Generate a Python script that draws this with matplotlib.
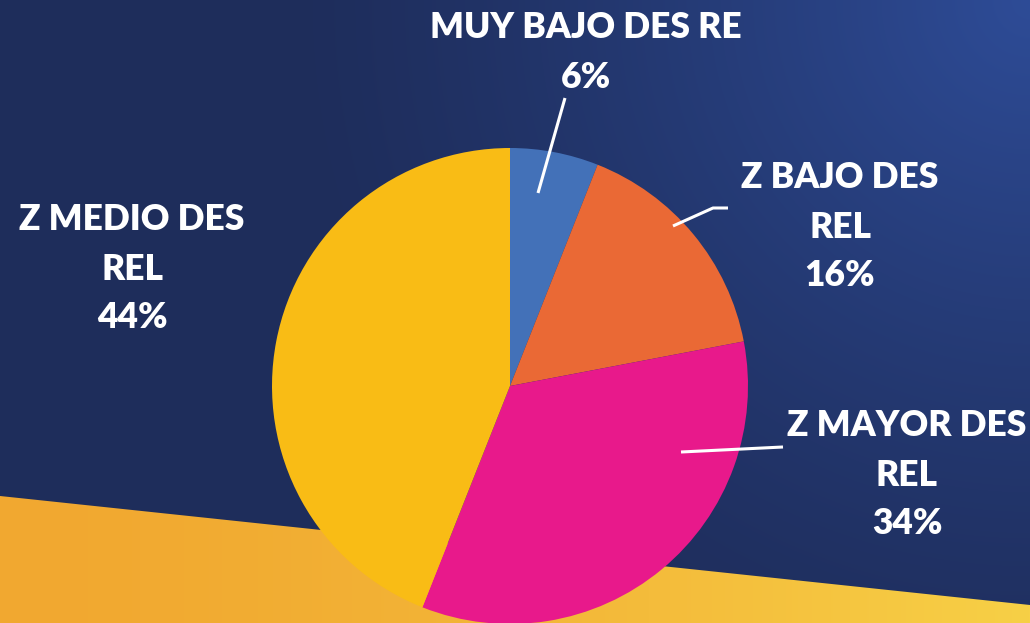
import numpy as np
import matplotlib
matplotlib.use("Agg")
import matplotlib.pyplot as plt
from matplotlib.patches import Polygon
from matplotlib.colors import to_rgb

categories = ["MUY BAJO DES RE", "Z BAJO DES REL", "Z MAYOR DES REL", "Z MEDIO DES REL"]
values = [6, 16, 34, 44]
label_lines = [["MUY BAJO DES RE", "6%"],
               ["Z BAJO DES", "REL", "16%"],
               ["Z MAYOR DES", "REL", "34%"],
               ["Z MEDIO DES", "REL", "44%"]]
colors = ["#4371B8", "#EA6935", "#E8198B", "#F9BC15"]

W, H = 1030, 623
fig = plt.figure(figsize=(W / 100, H / 100), dpi=100)
ax = fig.add_axes([0, 0, 1, 1])
ax.set_xlim(0, W)
ax.set_ylim(0, H)
ax.set_aspect("equal")
ax.axis("off")

# background gradient (navy, lighter toward top-right)
yy, xx = np.mgrid[0:H, 0:W]
d = np.sqrt((W - xx) ** 2 + (yy) ** 2)
t = np.clip(1 - d / 750, 0, 1) ** 1.3
c0 = np.array(to_rgb("#1E2D5B"))
c1 = np.array(to_rgb("#2E4C97"))
bg = c0[None, None, :] + t[..., None] * (c1 - c0)[None, None, :]
ax.imshow(bg, extent=[0, W, 0, H], origin="upper", zorder=0, aspect="auto")

# bottom band with horizontal gradient
band = Polygon([[0, H - 496], [W, H - 605], [W, 0], [0, 0]], closed=True,
               facecolor="none", edgecolor="none")
ax.add_patch(band)
g = np.linspace(0, 1, W)[None, :]
b0 = np.array(to_rgb("#F1A830"))
b1 = np.array(to_rgb("#F7D046"))
gb = np.repeat((b0[None, None, :] + (g[..., None] ** 1.5) * (b1 - b0)[None, None, :]), 2, axis=0)
im = ax.imshow(gb, extent=[0, W, 0, H], origin="upper", zorder=1, aspect="auto")
im.set_clip_path(band)

# pie
cx, cy, r = 510, H - 386, 238
wedges, _ = ax.pie(values, colors=colors, startangle=90, counterclock=False,
                   center=(cx, cy), radius=r, wedgeprops=dict(linewidth=0))
for w in wedges:
    w.set_zorder(3)
ax.set_xlim(0, W)
ax.set_ylim(0, H)

font = dict(family="Lato", weight="heavy", color="white", fontsize=25.5)
label_pos = [(586, 28), (840, 178), (907, 426), (132, 220)]
step = 49
for lines, (lx, ly) in zip(label_lines, label_pos):
    for i, s in enumerate(lines):
        ax.text(lx, H - (ly + i * step), s, ha="center", va="center", zorder=5, **font)

# leader lines
leaders = [[(538, 193), (565, 98)],
           [(673, 226), (713, 208), (728, 208)],
           [(681, 452), (783, 447)]]
for pts in leaders:
    xs = [p[0] for p in pts]
    ys = [H - p[1] for p in pts]
    ax.plot(xs, ys, color="white", lw=2.2, zorder=4, solid_capstyle="butt")

fig.savefig("out.png", dpi=100)
